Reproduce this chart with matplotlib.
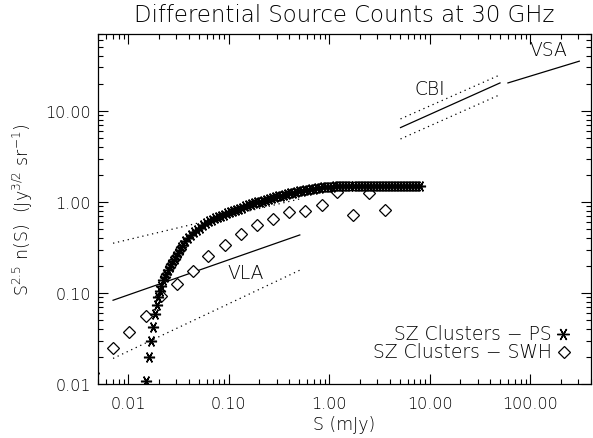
import matplotlib
matplotlib.use("Agg")
import matplotlib.pyplot as plt
from matplotlib.ticker import LogLocator, FixedLocator, FuncFormatter, NullFormatter

plt.rcParams['font.family'] = ['DejaVu Sans']
plt.rcParams['font.weight'] = 'light'
plt.rcParams['axes.titleweight'] = 'light'
plt.rcParams['axes.labelweight'] = 'light'
plt.rcParams['mathtext.default'] = 'regular'

# ---------------- data ----------------
# SZ clusters - PS (asterisks), S in mJy, S^2.5 n(S)
ps_s = [0.01514, 0.01596, 0.01671, 0.01762, 0.01828, 0.01914, 0.01972, 0.02051, 0.02133, 0.02213,
        0.02301, 0.02388, 0.02483, 0.02576, 0.02679, 0.02780, 0.02884, 0.02999, 0.03112, 0.03236,
        0.03357, 0.03491, 0.03690, 0.03908, 0.04169, 0.04467, 0.04786, 0.05129, 0.05495, 0.05888,
        0.06310, 0.06761, 0.07244, 0.07762, 0.08318, 0.08913, 0.09550, 0.1023, 0.1096, 0.1175,
        0.1259, 0.1349, 0.1445, 0.1549, 0.1660, 0.1778, 0.1905, 0.2042, 0.2188, 0.2344,
        0.2512, 0.2692, 0.2884, 0.3090, 0.3311, 0.3548, 0.3802, 0.4074, 0.4365, 0.4677,
        0.5012, 0.5370, 0.5754, 0.6166, 0.6607, 0.7079, 0.7586, 0.8128, 0.8710, 0.9333,
        1.000, 1.072, 1.148, 1.230, 1.318, 1.413, 1.514, 1.622, 1.738, 1.862,
        1.995, 2.138, 2.291, 2.455, 2.630, 2.818, 3.020, 3.236, 3.467, 3.715,
        3.981, 4.266, 4.571, 4.898, 5.248, 5.623, 6.026, 6.457, 6.918, 7.413, 7.943]
ps_n = [0.01086, 0.01963, 0.02944, 0.04266, 0.05875, 0.07379, 0.08974, 0.1059, 0.1202, 0.1380,
        0.1503, 0.1618, 0.1766, 0.1914, 0.2070, 0.2228, 0.2388, 0.2570, 0.2767, 0.2985,
        0.3184, 0.3388, 0.3690, 0.3999, 0.4315, 0.4624, 0.4920, 0.5212, 0.5521, 0.5821,
        0.6109, 0.6383, 0.6653, 0.6887, 0.7079, 0.7278, 0.7499, 0.7727, 0.7962, 0.8204,
        0.8453, 0.8690, 0.8933, 0.9162, 0.9397, 0.9638, 0.9863, 1.009, 1.033, 1.057,
        1.079, 1.102, 1.125, 1.148, 1.172, 1.194, 1.216, 1.239, 1.262, 1.282,
        1.303, 1.324, 1.343, 1.361, 1.380, 1.400, 1.416, 1.432, 1.445, 1.459,
        1.465, 1.475, 1.483, 1.490, 1.496, 1.500, 1.504, 1.507, 1.509, 1.511,
        1.512, 1.512, 1.513, 1.513, 1.513, 1.514, 1.514, 1.514, 1.515, 1.515,
        1.515, 1.515, 1.515, 1.515, 1.515, 1.515, 1.515, 1.515, 1.515, 1.515, 1.515]

# SZ clusters - SWH (diamonds)
swh_s = [0.00445, 0.00697, 0.01018, 0.01493, 0.02140, 0.03060, 0.04415, 0.06223, 0.0912, 0.1337,
         0.1888, 0.2723, 0.3953, 0.5702, 0.8356, 1.180, 1.702, 2.455, 3.565]
swh_n = [0.0132, 0.0247, 0.0376, 0.0564, 0.0933, 0.1256, 0.176, 0.253, 0.340, 0.445,
         0.563, 0.650, 0.771, 0.791, 0.927, 1.30, 0.719, 1.25, 0.816]

# Survey fits: VLA, CBI, VSA (start, end)
vla_s = [0.00706, 0.508]
vla_n = [0.0832, 0.434]
vla_n_hi = [0.352, 1.08]
vla_n_lo = [0.0191, 0.178]

cbi_s = [5.1, 49.8]
cbi_n = [6.56, 20.3]
cbi_n_hi = [8.17, 24.9]
cbi_n_lo = [4.92, 15.1]

vsa_s = [59.7, 306.0]
vsa_n = [20.3, 35.2]

x_ticks = [0.01, 0.1, 1.0, 10.0, 100.0]
y_ticks = [0.01, 0.1, 1.0, 10.0]

title = "Differential Source Counts at 30 GHz"
xlabel = "S (mJy)"
ylabel = r"S$^{2.5}$ n(S)  (Jy$^{3/2}$ sr$^{-1}$)"

# ---------------- figure ----------------
fig = plt.figure(figsize=(5.93, 4.39), dpi=100)
ax = fig.add_axes([98/593, 1-385/439, (591-98)/593, (385-35)/439])
ax.set_xscale('log')
ax.set_yscale('log')
ax.set_xlim(0.005, 400)
ax.set_ylim(0.01, 70)

lw = 0.9
ax.plot(vla_s, vla_n, color='black', lw=lw)
ax.plot(vla_s, vla_n_hi, color='black', lw=lw, ls=(0, (1, 3)))
ax.plot(vla_s, vla_n_lo, color='black', lw=lw, ls=(0, (1, 3)))
ax.plot(cbi_s, cbi_n, color='black', lw=lw)
ax.plot(cbi_s, cbi_n_hi, color='black', lw=lw, ls=(0, (1, 3)))
ax.plot(cbi_s, cbi_n_lo, color='black', lw=lw, ls=(0, (1, 3)))
ax.plot(vsa_s, vsa_n, color='black', lw=lw)

ast = (6, 2, 90)
ax.plot(swh_s, swh_n, ls='none', marker='D', ms=6.0, mfc='white', mec='black', mew=0.9)
ax.plot(ps_s, ps_n, ls='none', marker=ast, ms=8, mec='black', mew=1.1)

tfs = 13.5
ax.text(0.1476, 0.166, "VLA", fontsize=tfs, ha='center', va='center')
ax.text(10.0, 17.5, "CBI", fontsize=tfs, ha='center', va='center')
ax.text(149, 46.8, "VSA", fontsize=tfs, ha='center', va='center')

# legend (manual, IDL style)
ax.text(0.921, 0.143, "SZ Clusters \u2212 PS", transform=ax.transAxes, fontsize=tfs,
        ha='right', va='center')
ax.text(0.921, 0.092, "SZ Clusters \u2212 SWH", transform=ax.transAxes, fontsize=tfs,
        ha='right', va='center')
ax.plot([0.944], [0.143], transform=ax.transAxes, ls='none', marker=ast, ms=9,
        mec='black', mew=1.0, clip_on=False)
ax.plot([0.945], [0.092], transform=ax.transAxes, ls='none', marker='D', ms=6.0,
        mfc='white', mec='black', mew=0.9, clip_on=False)

# ticks
fmt = FuncFormatter(lambda v, p: "%.2f" % v)
ax.xaxis.set_major_locator(FixedLocator(x_ticks))
ax.yaxis.set_major_locator(FixedLocator(y_ticks))
ax.xaxis.set_minor_locator(LogLocator(base=10, subs=range(2, 10), numticks=20))
ax.yaxis.set_minor_locator(LogLocator(base=10, subs=range(2, 10), numticks=20))
ax.xaxis.set_major_formatter(fmt)
ax.yaxis.set_major_formatter(fmt)
ax.xaxis.set_minor_formatter(NullFormatter())
ax.yaxis.set_minor_formatter(NullFormatter())
ax.tick_params(which='both', direction='in', top=True, right=True, width=0.8, color='black')
ax.tick_params(which='major', length=7)
ax.tick_params(which='minor', length=3.5)
ax.tick_params(axis='x', which='major', pad=9, labelsize=11.5)
ax.tick_params(axis='y', which='major', pad=5, labelsize=11.5)
for sp in ax.spines.values():
    sp.set_linewidth(0.9)

ax.set_title(title, fontsize=16.5, pad=9)
ax.set_xlabel(xlabel, fontsize=12.5)
ax.set_ylabel(ylabel, fontsize=12.5)
ax.xaxis.set_label_coords(0.5, -0.088)
ax.yaxis.set_label_coords(-0.128, 0.5)

fig.savefig("out.png", dpi=100)
